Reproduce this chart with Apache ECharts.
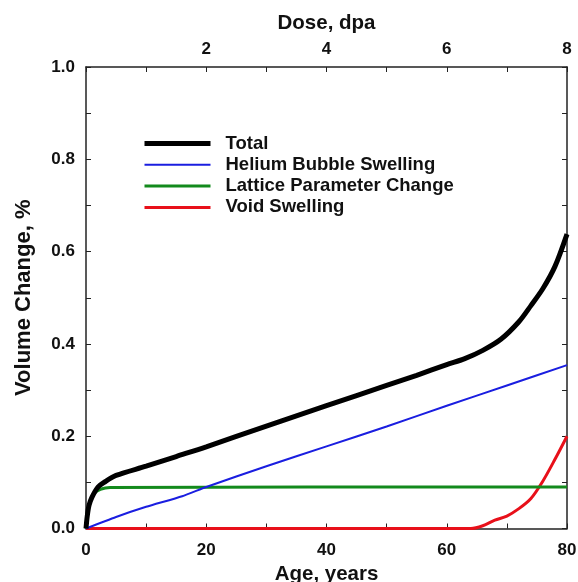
<!DOCTYPE html>
<html><head><meta charset="utf-8">
<script src="https://cdn.jsdelivr.net/npm/echarts@6/dist/echarts.min.js"></script>
<style>html,body{margin:0;padding:0;background:#fff}#c{width:578px;height:582px}</style>
</head><body><div id="c"></div>
<script>
const seriesNames = ['Total','Helium Bubble Swelling','Lattice Parameter Change','Void Swelling'];
const totalAge = [0, 0.2, 0.5, 1, 2, 3, 5, 10, 15, 20, 30, 40, 50, 55, 60, 63, 66, 69, 72, 74, 76, 78, 80];
const totalVal = [0, 0.026, 0.05, 0.068, 0.09, 0.1, 0.115, 0.135, 0.156, 0.177, 0.222, 0.266, 0.31, 0.332, 0.355, 0.368, 0.386, 0.41, 0.448, 0.483, 0.52, 0.568, 0.638];
const heliumAge = [0, 5, 10, 16, 20, 30, 40, 50, 60, 70, 80];
const heliumVal = [0, 0.025, 0.047, 0.07, 0.09, 0.135, 0.178, 0.221, 0.266, 0.31, 0.354];
const latticeAge = [0, 0.2, 0.8, 1.3, 2.4, 4, 80];
const latticeVal = [0, 0.033, 0.062, 0.076, 0.085, 0.089, 0.09];
const voidAge = [0, 60, 64, 66, 68, 70, 72, 74, 76, 78, 80];
const voidVal = [0, 0, 0, 0.006, 0.018, 0.027, 0.043, 0.065, 0.103, 0.15, 0.2];
const ageTicks = [0, 20, 40, 60, 80];
const doseTicks = [2, 4, 6, 8];

const pairs = (a, v) => a.map((x, i) => [x, v[i]]);
const F = 'Liberation Sans, Arial, sans-serif';
const axisLine = {show: true, onZero: false, lineStyle: {color: '#222', width: 1.5}};
const tickIn = {show: true, inside: true, length: 5, lineStyle: {color: '#222', width: 1}};
const minor = {show: true, splitNumber: 2, length: 5, lineStyle: {color: '#222', width: 1}};
const lbl = {color: '#111', fontFamily: F, fontWeight: 'bold', fontSize: 17};
const ttlX = {color: '#111', fontFamily: F, fontWeight: 'bold', fontSize: 20.5};
const ttlY = {color: '#111', fontFamily: F, fontWeight: 'bold', fontSize: 22};
const colors = ['#000', '#1a1ee0', '#138a1c', '#e8101a'];
const widths = [5, 2, 3, 3];

const chart = echarts.init(document.getElementById('c'), null, {renderer: 'canvas'});
chart.setOption({
  animation: false,
  backgroundColor: '#fff',
  grid: {left: 86, right: 11, top: 67, bottom: 53.5, containLabel: false, outerBoundsMode: 'none'},
  legend: {
    orient: 'vertical', left: 137, top: 129, itemWidth: 66, itemHeight: 14, itemGap: 2.3,
    data: seriesNames.map((n, i) => ({name: n, lineStyle: {color: colors[i], width: widths[i]}})),
    itemStyle: {opacity: 0, color: 'rgba(0,0,0,0)', borderWidth: 0},
    textStyle: {color: '#111', fontFamily: F, fontWeight: 'bold', fontSize: 18.5, lineHeight: 18, padding: [0, 0, 0, 10]}
  },
  xAxis: [{
    type: 'value', position: 'bottom', min: 0, max: 80, interval: 20,
    name: 'Age, years', nameLocation: 'middle', nameGap: 34, nameTextStyle: ttlX,
    axisLine: axisLine, axisTick: tickIn, minorTick: minor, splitLine: {show: false},
    axisLabel: Object.assign({margin: 13, formatter: v => ageTicks.includes(v) ? String(v) : ''}, lbl)
  }, {
    type: 'value', position: 'top', min: 0, max: 8, interval: 2,
    name: 'Dose, dpa', nameLocation: 'middle', nameGap: 33, nameTextStyle: ttlX,
    axisLine: axisLine, axisTick: tickIn, minorTick: minor, splitLine: {show: false},
    axisLabel: Object.assign({margin: 9, formatter: v => doseTicks.includes(v) ? String(v) : ''}, lbl)
  }],
  yAxis: [{
    type: 'value', position: 'left', min: 0, max: 1, interval: 0.2,
    name: 'Volume Change, %', nameLocation: 'middle', nameGap: 51, nameRotate: 90, nameTextStyle: ttlY,
    axisLine: axisLine, axisTick: tickIn, minorTick: minor, splitLine: {show: false},
    axisLabel: Object.assign({margin: 11, formatter: v => v.toFixed(1)}, lbl)
  }, {
    type: 'value', position: 'right', min: 0, max: 1, interval: 0.2,
    axisLine: axisLine, axisTick: tickIn, minorTick: minor, splitLine: {show: false},
    axisLabel: {show: false}
  }],
  series: [
    {name: seriesNames[3], type: 'line', data: pairs(voidAge, voidVal), smooth: 0.3, symbol: 'none', z: 3,
     lineStyle: {color: colors[3], width: widths[3]}, itemStyle: {color: colors[3]}},
    {name: seriesNames[2], type: 'line', data: pairs(latticeAge, latticeVal), smooth: 0.3, symbol: 'none', z: 3,
     lineStyle: {color: colors[2], width: widths[2]}, itemStyle: {color: colors[2]}},
    {name: seriesNames[1], type: 'line', data: pairs(heliumAge, heliumVal), smooth: 0.2, symbol: 'none', z: 3,
     lineStyle: {color: colors[1], width: widths[1]}, itemStyle: {color: colors[1]}},
    {name: seriesNames[0], type: 'line', data: pairs(totalAge, totalVal), smooth: 0.3, symbol: 'none', z: 4,
     lineStyle: {color: colors[0], width: widths[0]}, itemStyle: {color: colors[0]}}
  ]
});
</script></body></html>
